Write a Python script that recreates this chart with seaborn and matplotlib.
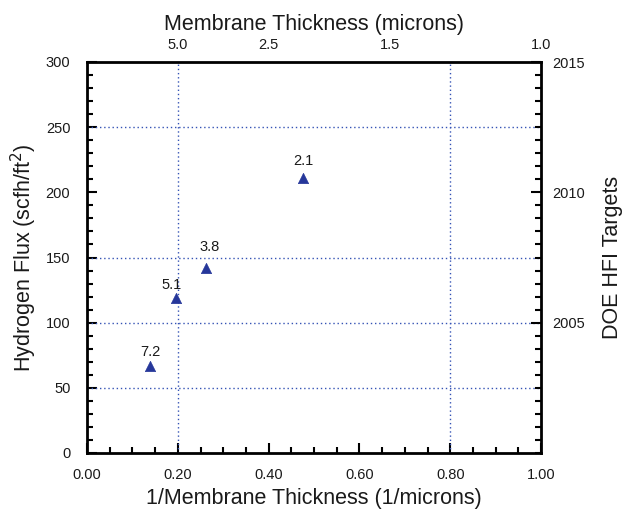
import matplotlib
matplotlib.use("Agg")
import matplotlib.pyplot as plt
import seaborn as sns
import pandas as pd
from matplotlib.ticker import MultipleLocator, FixedLocator, FixedFormatter

# ---- data ----
thickness_um = [7.2, 5.1, 3.8, 2.1]
inv_thickness = [0.139, 0.196, 0.263, 0.476]
flux = [67, 119, 142, 211]
point_labels = ["7.2", "5.1", "3.8", "2.1"]

flux_grid = [50, 100, 150, 250]
inv_grid = [0.2, 0.8]

top_tick_thickness = [5.0, 2.5, 1.5, 1.0]
top_tick_labels = ["5.0", "2.5", "1.5", "1.0"]

year_ticks = [2005, 2010, 2015]
year_labels = ["2005", "2010", "2015"]

df = pd.DataFrame({"inv": inv_thickness, "flux": flux, "label": point_labels})

sns.set_style("white")
plt.rcParams["font.family"] = ["Liberation Sans", "DejaVu Sans"]

fig = plt.figure(figsize=(6.23, 5.15), dpi=100)
ax = fig.add_axes([87 / 623, 62 / 515, 454 / 623, 391 / 515])

TICK_FS = 10.5
LAB_FS = 15.5
txt_col = "#1a1a1a"
grid_col = "#3553b5"
for v in flux_grid:
    ax.axhline(v, color=grid_col, lw=1.0, ls=(0, (1, 2)), zorder=1)
for v in inv_grid:
    ax.axvline(v, color=grid_col, lw=1.0, ls=(0, (1, 2)), zorder=1)

sns.scatterplot(data=df, x="inv", y="flux", marker="^", s=55, color="#26379a",
                edgecolor="#26379a", linewidth=0.5, ax=ax, zorder=3, legend=False)

offsets = [(0, 5), (-3, 4), (2, 10), (0, 7)]
for (xi, yi, lab), off in zip(zip(inv_thickness, flux, point_labels), offsets):
    ax.annotate(lab, (xi, yi), xytext=off, textcoords="offset points",
                ha="center", va="bottom", fontsize=TICK_FS, color=txt_col)

ax.set_xlim(0, 1)
ax.set_ylim(0, 300)
ax.xaxis.set_major_locator(MultipleLocator(0.2))
ax.xaxis.set_minor_locator(MultipleLocator(0.05))
ax.yaxis.set_major_locator(MultipleLocator(50))
ax.yaxis.set_minor_locator(MultipleLocator(10))
ax.set_xticklabels([f"{v:.2f}" for v in ax.get_xticks()])
ax.tick_params(axis="both", which="both", direction="in", top=True, right=False,
               width=1.5, color="black", labelsize=TICK_FS, labelcolor=txt_col)
ax.tick_params(which="major", length=7)
ax.tick_params(which="minor", length=4)
ax.tick_params(axis="x", pad=11)
ax.tick_params(axis="y", pad=12)

for sp in ax.spines.values():
    sp.set_linewidth(2.0)
    sp.set_color("black")

ax.set_xlabel("1/Membrane Thickness (1/microns)", fontsize=LAB_FS, labelpad=4,
              color=txt_col)
ax.set_ylabel("Hydrogen Flux (scfh/ft$^2$)", fontsize=LAB_FS, labelpad=5,
              color=txt_col)

# top axis: membrane thickness labels
axt = ax.twiny()
axt.set_xlim(0, 1)
axt.xaxis.set_major_locator(FixedLocator([1 / t for t in top_tick_thickness]))
axt.xaxis.set_major_formatter(FixedFormatter(top_tick_labels))
axt.tick_params(axis="x", length=0, labelsize=TICK_FS, pad=7, labelcolor=txt_col)
axt.set_xlabel("Membrane Thickness (microns)", fontsize=LAB_FS, labelpad=6,
               color=txt_col)
for sp in axt.spines.values():
    sp.set_visible(False)

# right axis: DOE targets (years)
axr = ax.twinx()
axr.set_ylim(2000, 2015)
axr.yaxis.set_major_locator(FixedLocator(year_ticks))
axr.yaxis.set_major_formatter(FixedFormatter(year_labels))
axr.yaxis.set_minor_locator(MultipleLocator(0.5))
axr.tick_params(axis="y", which="both", direction="in", width=1.5, color="black",
                labelsize=TICK_FS, pad=8, labelcolor=txt_col)
axr.tick_params(which="major", length=7)
axr.tick_params(which="minor", length=4)
axr.set_ylabel("DOE HFI Targets", fontsize=LAB_FS, labelpad=12, color=txt_col)
for sp in axr.spines.values():
    sp.set_visible(False)

fig.savefig("out.png", dpi=100)
